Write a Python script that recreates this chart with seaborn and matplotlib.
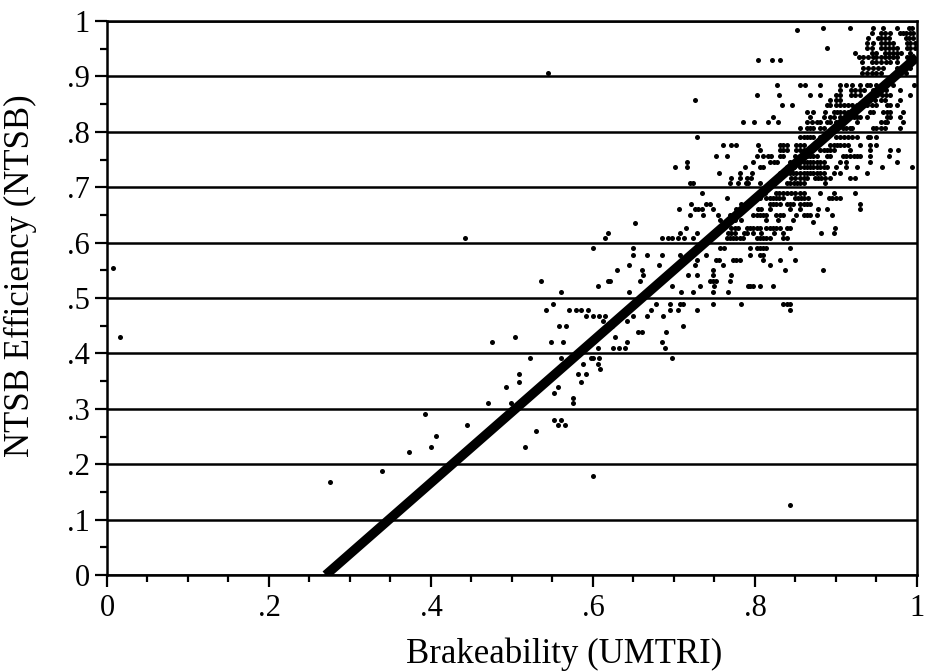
import matplotlib

matplotlib.use("Agg", force=True)
import matplotlib.pyplot as plt
import pandas as pd
import seaborn as sns
from matplotlib.ticker import FixedLocator, MultipleLocator

# scanned scatter: rows of points share (roughly) the same NTSB efficiency value
ROW_Y = [
    0.987, 0.984, 0.978, 0.969, 0.96, 0.951, 0.942, 0.935, 0.93, 0.926, 0.915, 0.906,
    0.884, 0.875, 0.866, 0.857, 0.848, 0.836, 0.827, 0.818, 0.807,
    0.79, 0.776, 0.767, 0.757, 0.746, 0.737, 0.726, 0.717, 0.708,
    0.69, 0.68, 0.67, 0.66, 0.65, 0.641, 0.637, 0.635, 0.626, 0.617, 0.608,
    0.59, 0.578, 0.569, 0.56, 0.555, 0.55, 0.541, 0.531, 0.522, 0.511,
    0.49, 0.478, 0.468, 0.459, 0.449, 0.439, 0.43, 0.421, 0.41,
    0.392, 0.381, 0.372, 0.363, 0.348, 0.339, 0.329, 0.319, 0.31,
    0.29, 0.28, 0.271, 0.26, 0.251, 0.231, 0.222, 0.188, 0.179, 0.168, 0.126,
]

ROW_X = [
    [0.884, 0.917, 0.946, 0.958, 0.975, 0.99, 0.994],
    [0.852],
    [0.944, 0.955, 0.96, 0.967, 0.979, 0.983, 0.987, 0.991, 0.995],
    [0.94, 0.952, 0.956, 0.96, 0.965, 0.986, 0.99, 0.995],
    [0.938, 0.946, 0.956, 0.96, 0.965, 0.97, 0.988, 0.992, 0.997],
    [0.889, 0.938, 0.944, 0.955, 0.96, 0.965, 0.97, 0.975, 0.988, 0.992, 0.997],
    [0.924, 0.944, 0.95, 0.96, 0.965, 0.97, 0.975, 0.98, 0.991],
    [0.928, 0.934, 0.94, 0.946, 0.95, 0.955, 0.96, 0.965, 0.97, 0.975, 0.988, 0.991],
    [0.804, 0.821, 0.831],
    [0.932, 0.944, 0.95, 0.955, 0.962, 0.967, 0.975, 0.991],
    [0.934, 0.94, 0.946, 0.952, 0.958, 0.975, 0.991],
    [0.545, 0.932, 0.938, 0.944, 0.95, 0.956, 0.977, 0.987],
    [0.827, 0.856, 0.862, 0.88, 0.905, 0.913, 0.92, 0.93, 0.938, 0.942, 0.95, 0.956, 0.971, 0.996],
    [0.905, 0.918, 0.924, 0.93, 0.935, 0.946, 0.951, 0.957, 0.962, 0.979],
    [0.802, 0.83, 0.868, 0.88, 0.9, 0.905, 0.918, 0.924, 0.93, 0.951, 0.957, 0.962, 0.967, 0.991],
    [0.726, 0.893, 0.9, 0.905, 0.942, 0.948, 0.955, 0.96, 0.979],
    [0.833, 0.846, 0.889, 0.893, 0.9, 0.905, 0.91, 0.915, 0.92, 0.926, 0.938, 0.944, 0.95, 0.963, 0.967, 0.975],
    [0.864, 0.872, 0.887, 0.897, 0.901, 0.905, 0.91, 0.915, 0.925, 0.942, 0.946, 0.958, 0.963, 0.967, 0.983],
    [0.822, 0.868, 0.885, 0.893, 0.898, 0.905, 0.917, 0.922, 0.926, 0.93, 0.938, 0.963, 0.967, 0.979],
    [0.785, 0.799, 0.816, 0.828, 0.864, 0.87, 0.876, 0.88, 0.889, 0.893, 0.9, 0.926, 0.955, 0.96, 0.963, 0.983],
    [0.855, 0.864, 0.868, 0.872, 0.88, 0.885, 0.909, 0.913, 0.917, 0.92, 0.946, 0.95, 0.955, 0.96, 0.979],
    [0.728, 0.855, 0.86, 0.864, 0.868, 0.872, 0.88, 0.9, 0.905, 0.91, 0.915, 0.92, 0.926, 0.94, 0.942, 0.95],
    [0.761, 0.771, 0.776, 0.804, 0.831, 0.835, 0.84, 0.851, 0.855, 0.86, 0.893, 0.897, 0.901, 0.905, 0.91,
     0.915, 0.93, 0.942, 0.95],
    [0.806, 0.831, 0.835, 0.84, 0.851, 0.856, 0.861, 0.88, 0.885, 0.889, 0.893, 0.897, 0.917, 0.942, 0.967, 0.977],
    [0.752, 0.765, 0.802, 0.81, 0.816, 0.82, 0.831, 0.835, 0.85, 0.855, 0.86, 0.864, 0.868, 0.872, 0.877,
     0.889, 0.893, 0.909, 0.913, 0.917, 0.922, 0.926, 0.93, 0.942, 0.965],
    [0.716, 0.798, 0.818, 0.823, 0.827, 0.843, 0.847, 0.851, 0.856, 0.86, 0.864, 0.868, 0.872, 0.876, 0.88,
     0.885, 0.905, 0.913, 0.942, 0.975],
    [0.701, 0.716, 0.788, 0.806, 0.81, 0.839, 0.843, 0.848, 0.856, 0.86, 0.864, 0.868, 0.872, 0.876, 0.88,
     0.885, 0.889, 0.9, 0.913, 0.926, 0.957, 0.994],
    [0.756, 0.781, 0.796, 0.831, 0.843, 0.847, 0.851, 0.856, 0.86, 0.864, 0.868, 0.872, 0.876, 0.88, 0.885,
     0.897, 0.905, 0.938],
    [0.771, 0.781, 0.79, 0.795, 0.845, 0.85, 0.855, 0.86, 0.864, 0.874, 0.878, 0.882, 0.887, 0.893, 0.917, 0.924],
    [0.72, 0.724, 0.769, 0.779, 0.789, 0.792, 0.806, 0.839, 0.843, 0.848, 0.852, 0.856, 0.86, 0.887],
    [0.734, 0.812, 0.826, 0.83, 0.835, 0.84, 0.845, 0.85, 0.855, 0.86, 0.88, 0.897, 0.924],
    [0.765, 0.806, 0.814, 0.818, 0.822, 0.826, 0.83, 0.835, 0.849, 0.853, 0.857, 0.861, 0.866, 0.891, 0.895,
     0.9, 0.905],
    [0.721, 0.74, 0.744, 0.783, 0.818, 0.822, 0.826, 0.831, 0.839, 0.843, 0.847, 0.856, 0.86, 0.864, 0.868, 0.93],
    [0.706, 0.726, 0.73, 0.735, 0.748, 0.777, 0.804, 0.808, 0.819, 0.843, 0.856, 0.878, 0.889, 0.93],
    [0.72, 0.736, 0.754, 0.769, 0.798, 0.802, 0.806, 0.81, 0.814, 0.826, 0.831, 0.835, 0.851, 0.86, 0.864,
     0.868, 0.876, 0.895],
    [0.757, 0.775, 0.783, 0.814, 0.828, 0.847],
    [0.872],
    [0.652],
    [0.715, 0.771, 0.775, 0.779, 0.79, 0.794, 0.798, 0.802, 0.806, 0.814, 0.818, 0.822, 0.826, 0.831, 0.839,
     0.843, 0.899],
    [0.619, 0.707, 0.728, 0.767, 0.771, 0.775, 0.786, 0.79, 0.798, 0.808, 0.823, 0.835, 0.882, 0.897],
    [0.442, 0.615, 0.685, 0.693, 0.697, 0.705, 0.712, 0.724, 0.765, 0.769, 0.773, 0.777, 0.781, 0.785, 0.802,
     0.806, 0.81, 0.814, 0.818, 0.835, 0.839],
    [0.6, 0.649, 0.732, 0.757, 0.762, 0.794, 0.802, 0.806, 0.81, 0.814, 0.843],
    [0.649, 0.667, 0.685, 0.707, 0.74, 0.794, 0.806, 0.81],
    [0.715, 0.728, 0.752, 0.756, 0.773, 0.777, 0.781, 0.81, 0.831, 0.849],
    [0.644, 0.682, 0.726, 0.761, 0.818],
    [0.007],
    [0.63, 0.66, 0.748, 0.837, 0.884],
    [0.662, 0.717, 0.728, 0.748, 0.771],
    [0.536, 0.618, 0.621, 0.658, 0.744, 0.748, 0.752, 0.769],
    [0.606, 0.697, 0.732, 0.75, 0.791, 0.794, 0.798, 0.806, 0.822],
    [0.561, 0.645, 0.709, 0.724, 0.748, 0.767],
    [0.551, 0.678, 0.695, 0.707, 0.711, 0.748, 0.783, 0.835, 0.839, 0.843],
    [0.542, 0.571, 0.579, 0.585, 0.594, 0.672, 0.695, 0.705, 0.728, 0.843],
    [0.591, 0.6, 0.607, 0.615, 0.649, 0.667, 0.687],
    [0.612, 0.642],
    [0.558, 0.567, 0.623, 0.711],
    [0.656, 0.66, 0.69],
    [0.016, 0.504, 0.627],
    [0.475, 0.548, 0.563, 0.6, 0.642, 0.685],
    [0.606, 0.625, 0.632, 0.639, 0.689],
    [0.522, 0.561, 0.598, 0.6, 0.608, 0.697],
    [0.588, 0.606],
    [0.609],
    [0.509, 0.582, 0.591],
    [0.509, 0.585],
    [0.493, 0.557],
    [0.552],
    [0.575],
    [0.471, 0.499, 0.575],
    [0.393],
    [0.552, 0.561],
    [0.444, 0.557, 0.566],
    [0.53],
    [0.406],
    [0.4, 0.516],
    [0.373],
    [0.34],
    [0.6],
    [0.275],
    [0.843],
]

# fitted line drawn over the points
LINE_X = [0.27, 1.0]
LINE_Y = [0.0, 0.935]

X_TICKS = [0.0, 0.2, 0.4, 0.6, 0.8, 1.0]
X_LABELS = ["0", ".2", ".4", ".6", ".8", "1"]
Y_TICKS = [0.0, 0.1, 0.2, 0.3, 0.4, 0.5, 0.6, 0.7, 0.8, 0.9, 1.0]
Y_LABELS = ["0", ".1", ".2", ".3", ".4", ".5", ".6", ".7", ".8", ".9", "1"]


def build_points() -> pd.DataFrame:
    rows = []
    for y, xs in zip(ROW_Y, ROW_X):
        for x in xs:
            rows.append({"brakeability": x, "efficiency": y})
    return pd.DataFrame(rows)


def main() -> None:
    sns.set_theme(style="white")
    plt.rcParams["font.family"] = ["Liberation Serif", "DejaVu Serif"]

    fig = plt.figure(figsize=(9.28, 6.71), dpi=100)
    ax = fig.add_axes([0.1153, 0.143, 0.8728, 0.8257])

    pts = build_points()
    sns.scatterplot(data=pts, x="brakeability", y="efficiency", ax=ax,
                    color="black", s=13, linewidth=0, zorder=3)
    line = pd.DataFrame({"x": LINE_X, "y": LINE_Y})
    sns.lineplot(data=line, x="x", y="y", ax=ax, color="black",
                 linewidth=6.8, solid_capstyle="butt", zorder=4)

    ax.set_xlim(0, 1)
    ax.set_ylim(0, 1)
    ax.xaxis.set_major_locator(FixedLocator(X_TICKS))
    ax.yaxis.set_major_locator(FixedLocator(Y_TICKS))
    ax.set_xticklabels(X_LABELS)
    ax.set_yticklabels(Y_LABELS)
    ax.xaxis.set_minor_locator(MultipleLocator(0.05))
    ax.yaxis.set_minor_locator(MultipleLocator(0.05))

    ax.yaxis.grid(True, which="major", color="black", linewidth=1.8)
    ax.xaxis.grid(False)
    ax.set_axisbelow(True)
    for spine in ax.spines.values():
        spine.set_color("black")
        spine.set_linewidth(1.8)

    ax.tick_params(axis="both", which="major", direction="out", length=8.5,
                   width=1.6, color="black", labelsize=22, labelcolor="black",
                   bottom=True, left=True)
    ax.tick_params(axis="both", which="minor", direction="out", length=5,
                   width=1.6, color="black", bottom=True, left=True)
    ax.tick_params(axis="x", which="major", pad=5)
    ax.tick_params(axis="y", which="major", pad=4)

    ax.set_xlabel("Brakeability (UMTRI)", fontsize=25, color="black")
    ax.set_ylabel("NTSB Efficiency (NTSB)", fontsize=25, color="black")
    ax.xaxis.set_label_coords(0.565, -0.113)
    ax.yaxis.set_label_coords(-0.087, 0.54)

    fig.savefig("out.png", dpi=100)
    plt.close(fig)


if __name__ == "__main__":
    main()
